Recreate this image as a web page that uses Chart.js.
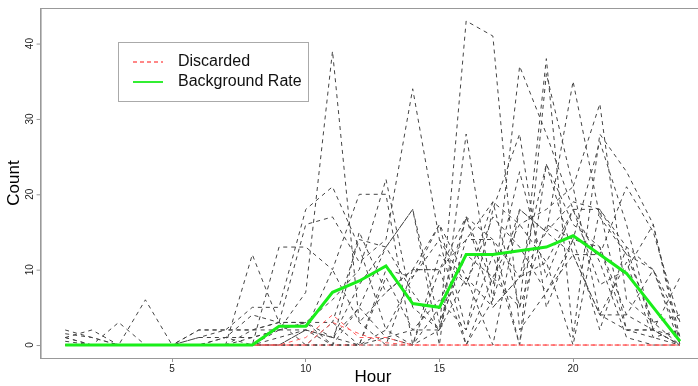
<!DOCTYPE html>
<html>
<head>
<meta charset="utf-8">
<script src="https://cdn.jsdelivr.net/npm/chart.js@4/dist/chart.umd.min.js"></script>
<style>
  html,body{margin:0;padding:0;background:#fff;overflow:hidden;}
  #wrap{position:relative;width:706px;height:386px;}
</style>
</head>
<body>
<div id="wrap"><canvas id="c"></canvas></div>
<script>
// values (hours 1..24)
const hours = [1,2,3,4,5,6,7,8,9,10,11,12,13,14,15,16,17,18,19,20,21,22,23,24];
const xTicks = [5,10,15,20];
const yTicks = [0,10,20,30,40];

const background = [0,0,0,0,0,0,0,0,2.5,2.5,7,8.5,10.5,5.5,5,12,12,12.5,13,14.5,12,9.5,5,0.5];
const discardedA = [0,0,0,0,0,0,0,0,0,1,4,1,1,0,0,0,0,0,0,0,0,0,0,0];
const discardedB = [0,0,0,0,0,0,0,0,0,0,3,1.5,0.3,0,0,0,0,0,0,0,0,0,0,0];
const discardedC = [0,0,0,0,0,0,0,0,0,0,0,0,0,0,0,0,0,0,0,0,0,0,0,0];

// one row per day
const days = [
  [2,1,0,0,0,0,0,0,2,7,39,3,7,10,16,9,5,9,15,12,4,2,1,0],
  [1,2,0,0,0,1,2,5,5,18,21,13,2,9,14,8,19,16,11,18,18,13,10,3],
  [1,0,0,0,0,0,1,0,13,13,10,20,20,0,10,17,14,9,24,16,13,4,2,0],
  [0,0,0,0,0,0,0,12,3,16,17,11,14,34,14,0,6,18,15,35,17,12,10,1],
  [0,0,3,0,0,0,0,2,2,3,6,10,22,5,2,43,41,2,7,12,12,21,15,3],
  [0,0,0,6,0,0,0,0,0,2,1,8,13,18,0,28,6,37,28,18,8,10,16,0],
  [0.5,0,0,0,0,2,2,2,3,3,0,15,7,10,10,14,19,5,38,1,28,23,16,1],
  [1.5,1,0,0,0,1,1,4,3,0,3,0,1,2,2,14,14,0,36,21,32,6,3,4],
  [0,0,0,0,0,0,0,0,0,0,0,0,10,9,16,2,18,28,5,14,2,13,2,9],
  [0,0,0,0,0,0,0,0,1,2,0,5,1,0,5,17,5,9,11,0,18,12,3,0],
  [1,0,0,0,0,2,2,2,3,3,3,14,13,7,2,9,0,18,15,19,18,2,2,1],
  [0,0,0,0,0,0,1,1,2,3,1,0,9,2,6,2,12,0,24,12,4,4,10,0],
  [0,0,0,0,0,0,0,0,0,2,10,3,0,10,10,0,9,16,18,21,4,11,1,2],
  [0,0,0,0,0,0,0,0,0,0,0,0,0,0,2,17,8,23,9,18,11,1,0,0],
  [0,0,0,0,0,0,0,1,2,2,1,5,13,18,3,12,9,5,16,14,13,2,2,0],
  [0,0,0,0,0,0,0,0,0,0,0,0,2,0,12,8,17,13,7,14,27,16,2,0]
];

const pts = arr => arr.map((v,i)=>({x:hours[i], y:v}));
const FONT = "'Liberation Sans', Arial, Helvetica, sans-serif";

const datasets = [
  {data:pts(background), borderColor:'#1aee1a', borderWidth:3, order:0},
  {data:pts(discardedA), borderColor:'#ff5a5a', borderWidth:1, borderDash:[4,4], order:1},
  {data:pts(discardedB), borderColor:'#ff5a5a', borderWidth:1, borderDash:[4,4], borderDashOffset:4, order:1},
  {data:pts(discardedC), borderColor:'#ff5a5a', borderWidth:1, borderDash:[4,4], borderDashOffset:2, order:1}
].concat(days.map(d => ({data:pts(d), borderColor:'#444', borderWidth:1, borderDash:[4,4], order:2})));

// R style box, rotated y labels, axis titles and legend
const rDecor = {
  id:'rDecor',
  afterDraw(chart){
    const {ctx, chartArea:a, scales:{y}} = chart;
    ctx.save();
    ctx.strokeStyle = '#999'; ctx.lineWidth = 1;
    ctx.strokeRect(a.left+0.5, a.top+0.5, a.right-a.left, a.bottom-a.top);

    ctx.fillStyle = '#222';
    ctx.font = '10px ' + FONT;
    ctx.textAlign = 'center'; ctx.textBaseline = 'middle';
    yTicks.forEach(v => {
      const py = y.getPixelForValue(v);
      ctx.save(); ctx.translate(30, py); ctx.rotate(-Math.PI/2); ctx.fillText(String(v), 0, 0); ctx.restore();
      ctx.beginPath(); ctx.moveTo(a.left, py+0.5); ctx.lineTo(a.left-4, py+0.5); ctx.stroke();
    });

    ctx.fillStyle = '#000';
    ctx.font = '17px ' + FONT;
    ctx.fillText('Hour', 373, 377);
    ctx.save(); ctx.translate(14, (a.top+a.bottom)/2); ctx.rotate(-Math.PI/2); ctx.fillText('Count', 0, 0); ctx.restore();

    // legend
    ctx.fillStyle = '#fff';
    ctx.fillRect(118, 42, 190, 59);
    ctx.strokeStyle = '#aaa';
    ctx.strokeRect(118.5, 42.5, 190, 59);
    ctx.lineWidth = 1.5; ctx.strokeStyle = '#ff6060'; ctx.setLineDash([4,3]);
    ctx.beginPath(); ctx.moveTo(133, 62); ctx.lineTo(163, 62); ctx.stroke();
    ctx.setLineDash([]); ctx.lineWidth = 2; ctx.strokeStyle = '#33ee33';
    ctx.beginPath(); ctx.moveTo(133, 82); ctx.lineTo(163, 82); ctx.stroke();
    ctx.fillStyle = '#111'; ctx.font = '16px ' + FONT; ctx.textAlign = 'left';
    ctx.fillText('Discarded', 178, 62);
    ctx.fillText('Background Rate', 178, 82);
    ctx.restore();
  }
};

new Chart(document.getElementById('c'), {
  type:'line',
  data:{datasets},
  plugins:[rDecor],
  options:{
    responsive:true, maintainAspectRatio:false, animation:false,
    layout:{padding:{top:8, right:1.4, left:0, bottom:0}},
    elements:{point:{radius:0}, line:{tension:0, fill:false}},
    plugins:{legend:{display:false}, tooltip:{enabled:false}},
    scales:{
      x:{
        type:'linear', min:0.08, max:24.92,
        afterBuildTicks: s => { s.ticks = xTicks.map(v=>({value:v})); },
        afterFit: s => { s.height = 28; },
        grid:{drawOnChartArea:false, drawTicks:true, tickLength:4, color:'#999'},
        border:{display:true, color:'#999'},
        ticks:{font:{size:10, family:FONT}, color:'#222', padding:1, maxRotation:0}
      },
      y:{
        type:'linear', min:-1.72, max:44.72,
        afterBuildTicks: s => { s.ticks = yTicks.map(v=>({value:v})); },
        afterFit: s => { s.width = 40.6; },
        grid:{display:false},
        border:{display:true, color:'#999'},
        ticks:{display:false}
      }
    }
  }
});
</script>
</body>
</html>
